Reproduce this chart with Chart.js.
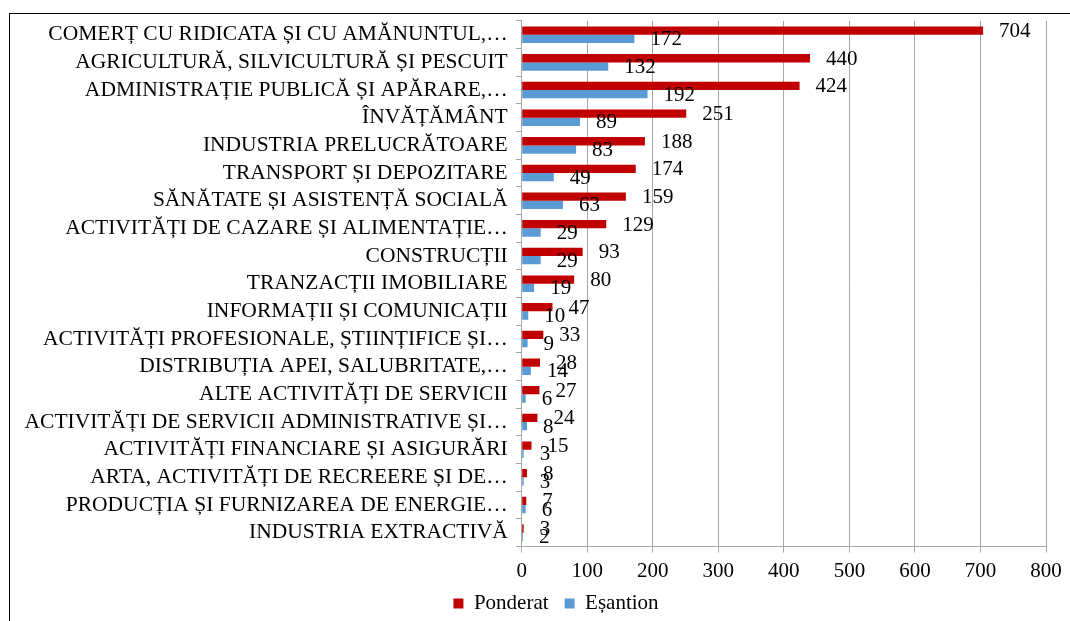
<!DOCTYPE html>
<html><head><meta charset="utf-8">
<script src="https://cdn.jsdelivr.net/npm/chart.js@4.4.1/dist/chart.umd.min.js"></script>
<style>
html,body{margin:0;padding:0;background:#fff;overflow:hidden;width:1070px;height:621px}
#wrap{position:absolute;left:0;top:0;width:1070px;height:624px}
#frame{position:absolute;left:9px;top:13px;width:1200px;height:800px;border:1px solid #000;pointer-events:none}
</style></head><body>
<div id="wrap"><canvas id="c"></canvas></div><div id="frame"></div>
<script>
const categories = [
  "COMERȚ CU RIDICATA ȘI CU AMĂNUNTUL,…",
  "AGRICULTURĂ, SILVICULTURĂ ȘI PESCUIT",
  "ADMINISTRAȚIE PUBLICĂ ȘI APĂRARE,…",
  "ÎNVĂȚĂMÂNT",
  "INDUSTRIA PRELUCRĂTOARE",
  "TRANSPORT ȘI DEPOZITARE",
  "SĂNĂTATE ȘI ASISTENȚĂ SOCIALĂ",
  "ACTIVITĂȚI DE CAZARE ȘI ALIMENTAȚIE…",
  "CONSTRUCȚII",
  "TRANZACȚII IMOBILIARE",
  "INFORMAȚII ȘI COMUNICAȚII",
  "ACTIVITĂȚI PROFESIONALE, ȘTIINȚIFICE ȘI…",
  "DISTRIBUȚIA APEI, SALUBRITATE,…",
  "ALTE ACTIVITĂȚI DE SERVICII",
  "ACTIVITĂȚI DE SERVICII ADMINISTRATIVE ȘI…",
  "ACTIVITĂȚI FINANCIARE ȘI ASIGURĂRI",
  "ARTA, ACTIVITĂȚI DE RECREERE ȘI DE…",
  "PRODUCȚIA ȘI FURNIZAREA DE ENERGIE…",
  "INDUSTRIA EXTRACTIVĂ"
];
const ponderat = [704, 440, 424, 251, 188, 174, 159, 129, 93, 80, 47, 33, 28, 27, 24, 15, 8, 7, 3];
const esantion = [172, 132, 192, 89, 83, 49, 63, 29, 29, 19, 10, 9, 14, 6, 8, 3, 3, 6, 2];
const xTickValues = [0, 100, 200, 300, 400, 500, 600, 700, 800];
const seriesNames = ["Ponderat", "Eșantion"];

const FONT = "'Liberation Serif', 'Times New Roman', serif";
Chart.defaults.font.family = FONT;
Chart.defaults.font.size = 21;
Chart.defaults.color = "#000";

const valueLabels = {
  id: "valueLabels",
  afterDatasetsDraw(chart) {
    const ctx = chart.ctx;
    ctx.save();
    ctx.font = "21px " + FONT;
    ctx.fillStyle = "#000";
    ctx.textAlign = "left";
    ctx.textBaseline = "middle";
    chart.data.datasets.forEach((ds, i) => {
      const meta = chart.getDatasetMeta(i);
      meta.data.forEach((el, j) => {
        ctx.fillText(String(ds.data[j]), el.x + 16, el.y + 1);
      });
    });
    ctx.restore();
  }
};

// shift the legend so it is centred as in the original (wider) chart frame
const legendShift = {
  id: "legendShift",
  afterLayout(chart) {
    if (chart.legend) { chart.legend.left += 27; chart.legend.right += 27; }
  }
};

new Chart(document.getElementById("c"), {
  type: "bar",
  data: {
    labels: categories,
    datasets: [
      { label: seriesNames[0], data: ponderat, backgroundColor: "#C00000", barPercentage: 1.0, categoryPercentage: 0.6 },
      { label: seriesNames[1], data: esantion, backgroundColor: "#5B9BD5", barPercentage: 1.0, categoryPercentage: 0.6 }
    ]
  },
  options: {
    indexAxis: "y",
    responsive: true,
    maintainAspectRatio: false,
    animation: false,
    layout: { padding: { left: 12, right: 24, top: 14, bottom: 0 } },
    scales: {
      x: {
        min: 0, max: 800,
        afterBuildTicks(scale) { scale.ticks = xTickValues.map(v => ({ value: v })); },
        afterFit(scale) { scale.height = 30.5; },
        ticks: { padding: 6, font: { size: 21 }, color: "#000" },
        grid: { color: "#A6A6A6", tickLength: 6, lineWidth: 1 },
        border: { color: "#A6A6A6" }
      },
      y: {
        afterFit(scale) { scale.width = 509.7; },
        ticks: { padding: 8, font: { size: 21.5 }, color: "#000", autoSkip: false },
        grid: { drawOnChartArea: false, offset: true, tickLength: 6, color: "#A6A6A6" },
        border: { color: "#A6A6A6" }
      }
    },
    plugins: {
      legend: {
        position: "bottom",
        labels: { boxWidth: 10, boxHeight: 10, padding: 16, font: { size: 21 }, color: "#000" }
      },
      tooltip: { enabled: false }
    }
  },
  plugins: [valueLabels, legendShift]
});
</script>
</body></html>
